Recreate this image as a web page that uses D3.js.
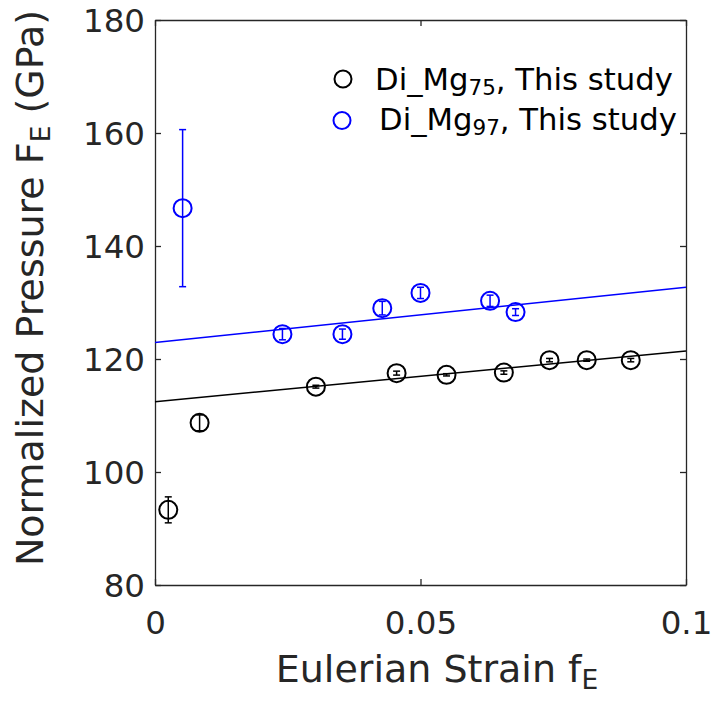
<!DOCTYPE html>
<html><head><meta charset="utf-8">
<script src="https://cdn.jsdelivr.net/npm/d3@7"></script>
<style>
html,body{margin:0;padding:0;background:#fff;}
svg{display:block;font-family:"DejaVu Sans",sans-serif;}
</style></head>
<body>
<svg id="chart" width="719" height="705"></svg>
<script>
// ---- data ----
const mg75X   = [0.0025, 0.0084, 0.0303, 0.0455, 0.0549, 0.0657, 0.0743, 0.0813, 0.0896];
const mg75Y   = [93.3, 108.7, 115.1, 117.5, 117.2, 117.6, 119.8, 119.8, 119.8];
const mg75Err = [2.3, 1.4, 0.25, 0.35, 0.2, 0.3, 0.3, 0.2, 0.3];
const mg97X   = [0.0052, 0.0240, 0.0353, 0.0428, 0.0500, 0.0631, 0.0679];
const mg97Y   = [146.7, 124.4, 124.4, 129.0, 131.7, 130.3, 128.3];
const mg97Err = [13.9, 1.0, 0.9, 1.2, 1.0, 1.0, 0.6];
const fitX    = [0, 0.1];
const mg75Fit = [112.44, 121.4];
const mg97Fit = [122.9, 132.7];
const xTicks  = [0, 0.05, 0.1];
const xTickLabels = ["0", "0.05", "0.1"];
const yTicks  = [80, 100, 120, 140, 160, 180];
const legendLabels = [["Di_Mg", "75", ", This study"], ["Di_Mg", "97", ", This study"]];
const seriesColors = ["#000000", "#0000ff"];

// ---- layout ----
const L = 155, R = 686, T = 20, B = 585;
const svg = d3.select("#chart");
const x = d3.scaleLinear().domain([0, 0.1]).range([L, R]);
const y = d3.scaleLinear().domain([80, 180]).range([B, T]);
const axisColor = "#262626";

// axes with inward ticks (mirrored)
const gx = svg.append("g").attr("transform", `translate(0,${B})`)
  .call(d3.axisBottom(x).tickValues(xTicks).tickFormat((d,i)=>xTickLabels[i]).tickSizeInner(-6).tickSizeOuter(0).tickPadding(26));
const gxTop = svg.append("g").attr("transform", `translate(0,${T})`)
  .call(d3.axisTop(x).tickValues(xTicks).tickFormat("").tickSizeInner(-6).tickSizeOuter(0));
const gy = svg.append("g").attr("transform", `translate(${L},0)`)
  .call(d3.axisLeft(y).tickValues(yTicks).tickSizeInner(-6).tickSizeOuter(0).tickPadding(10));
const gyR = svg.append("g").attr("transform", `translate(${R},0)`)
  .call(d3.axisRight(y).tickValues(yTicks).tickFormat("").tickSizeInner(-6).tickSizeOuter(0));
[gx, gxTop, gy, gyR].forEach(g => {
  g.selectAll("path").attr("stroke", axisColor).attr("stroke-width", 1.3);
  g.selectAll("line").attr("stroke", axisColor).attr("stroke-width", 1.3);
  g.selectAll("text").attr("fill", axisColor).attr("font-size", 32.5).attr("font-family", "DejaVu Sans");
});
gx.selectAll("text").attr("dy", "0.71em");
gy.selectAll("text").attr("dy", "0.36em");

// fit lines
const line = d3.line().x(d => x(d[0])).y(d => y(d[1]));
[[mg75Fit, seriesColors[0]], [mg97Fit, seriesColors[1]]].forEach(([fit, c]) => {
  svg.append("path").datum(fitX.map((v,i)=>[v, fit[i]]))
    .attr("d", line).attr("fill", "none").attr("stroke", c).attr("stroke-width", 1.5);
});

// error bars + markers
function drawSeries(xs, ys, es, color) {
  const g = svg.append("g");
  const data = xs.map((v,i)=>({x:v, y:ys[i], e:es[i]}));
  const cap = 3.5;
  data.forEach(d => {
    const cx = x(d.x), y1 = y(d.y - d.e), y2 = y(d.y + d.e);
    g.append("line").attr("x1", cx).attr("x2", cx).attr("y1", y1).attr("y2", y2)
      .attr("stroke", color).attr("stroke-width", 1.5);
    [y1, y2].forEach(yy => g.append("line").attr("x1", cx-cap).attr("x2", cx+cap)
      .attr("y1", yy).attr("y2", yy).attr("stroke", color).attr("stroke-width", 1.5));
  });
  g.selectAll("circle").data(data).join("circle")
    .attr("cx", d => x(d.x)).attr("cy", d => y(d.y)).attr("r", 9)
    .attr("fill", "none").attr("stroke", color).attr("stroke-width", 2);
}
drawSeries(mg75X, mg75Y, mg75Err, seriesColors[0]);
drawSeries(mg97X, mg97Y, mg97Err, seriesColors[1]);

// legend
const legRows = [{cx:343, cy:79, tx:375, ty:90}, {cx:342, cy:120.5, tx:379, ty:130}];
legendLabels.forEach((lab, i) => {
  const r = legRows[i];
  svg.append("circle").attr("cx", r.cx).attr("cy", r.cy).attr("r", 8.5)
    .attr("fill", "none").attr("stroke", seriesColors[i]).attr("stroke-width", 2);
  const t = svg.append("text").attr("x", r.tx).attr("y", r.ty)
    .attr("font-size", 30.7).attr("fill", "#000");
  t.append("tspan").text(lab[0]);
  t.append("tspan").attr("font-size", 21.5).attr("dy", 5).text(lab[1]);
  t.append("tspan").attr("dy", -5).text(lab[2]);
});

// axis titles
const xt = svg.append("text").attr("x", 437).attr("y", 682).attr("text-anchor", "middle")
  .attr("font-size", 38).attr("fill", axisColor);
xt.append("tspan").text("Eulerian Strain f");
xt.append("tspan").attr("font-size", 26.5).attr("dy", 7).text("E");

const yt = svg.append("text").attr("transform", `translate(43,288) rotate(-90)`)
  .attr("text-anchor", "middle").attr("font-size", 38).attr("fill", axisColor);
yt.append("tspan").text("Normalized Pressure F");
yt.append("tspan").attr("font-size", 26.5).attr("dy", 7).text("E");
yt.append("tspan").attr("dy", -7).text(" (GPa)");
</script>
</body></html>
